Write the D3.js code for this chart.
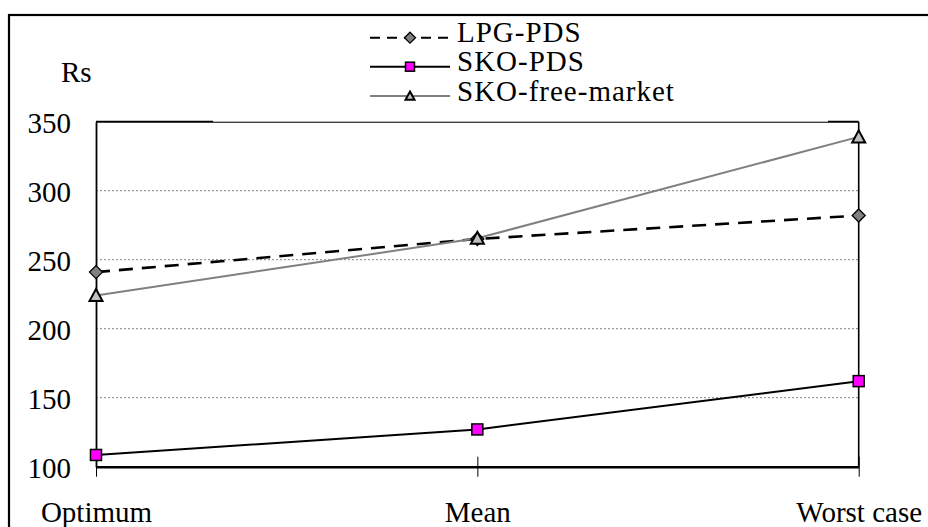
<!DOCTYPE html>
<html>
<head>
<meta charset="utf-8">
<script src="https://cdn.jsdelivr.net/npm/d3@7"></script>
<style>
  html, body { margin: 0; padding: 0; background: #fff; }
  svg { display: block; }
</style>
</head>
<body>
<svg id="chart" width="928" height="527"></svg>
<script>
// Cost per household scenario (Rs)
const categories = ["Optimum", "Mean", "Worst case"];
const lpgPds = [241, 265, 282];
const skoPds = [108.5, 127, 162];
const skoFreeMarket = [224, 265.5, 339];
const yTicks = [100, 150, 200, 250, 300, 350];
const seriesNames = ["LPG-PDS", "SKO-PDS", "SKO-free-market"];

// pick the first installed serif face (Times-like preferred)
function pickFont(cands) {
  const ctx = document.createElement("canvas").getContext("2d");
  const probe = "Optimum SKO-free-market 0123456789";
  for (const f of cands) {
    let differs = false;
    for (const base of ["monospace", "sans-serif"]) {
      ctx.font = `30px ${base}`;
      const w0 = ctx.measureText(probe).width;
      ctx.font = `30px "${f}", ${base}`;
      if (Math.abs(ctx.measureText(probe).width - w0) > 0.5) differs = true;
      else { differs = false; break; }
    }
    if (differs) return `"${f}"`;
  }
  return "serif";
}
const serif = pickFont(["Liberation Serif", "Times New Roman", "Tinos", "Nimbus Roman",
  "Nimbus Roman No9 L", "FreeSerif", "DejaVu Serif", "Noto Serif", "Noto Serif CJK SC"]);

const svg = d3.select("#chart").attr("font-family", serif);
const plotLeft = 96, plotRight = 858.7, plotTop = 121.7, plotBottom = 466.7;

const x = d3.scalePoint().domain(categories).range([plotLeft, plotRight]);
const y = d3.scaleLinear().domain([100, 350]).range([plotBottom, plotTop]);

// outer chart border
svg.append("rect")
  .attr("x", 9).attr("y", 15)
  .attr("width", 940).attr("height", 540)
  .attr("fill", "none").attr("stroke", "#000").attr("stroke-width", 2.2);

// dotted gridlines
svg.append("g")
  .selectAll("line")
  .data(yTicks.filter(d => d > 100 && d < 350))
  .join("line")
  .attr("x1", plotLeft).attr("x2", plotRight)
  .attr("y1", d => y(d)).attr("y2", d => y(d))
  .attr("stroke", "#808080").attr("stroke-width", 1)
  .attr("stroke-dasharray", "2,2");

// plot frame: top and right edges
svg.append("line")
  .attr("x1", plotLeft).attr("x2", plotRight).attr("y1", plotTop).attr("y2", plotTop)
  .attr("stroke", "#000").attr("stroke-width", 2);
svg.append("line")
  .attr("x1", plotRight).attr("x2", plotRight).attr("y1", plotTop).attr("y2", plotBottom)
  .attr("stroke", "#000").attr("stroke-width", 1.6);

// legend background box (overlaps the frame top slightly)
svg.append("rect")
  .attr("x", 213).attr("y", 17)
  .attr("width", 615).attr("height", plotTop - 17)
  .attr("fill", "#fff");

// y axis
const yAxis = d3.axisLeft(y).tickValues(yTicks).tickSize(0).tickPadding(25);
const gy = svg.append("g").attr("transform", `translate(${plotLeft},0)`).call(yAxis);
gy.attr("font-family", serif).attr("font-size", 29);
gy.select(".domain").attr("stroke", "#000").attr("stroke-width", 1.8);
gy.selectAll("text").attr("fill", "#000").attr("dy", "0.36em");

// x axis with crossing tick marks
const xAxis = d3.axisBottom(x).tickSizeInner(10).tickSizeOuter(0).tickPadding(25);
const gx = svg.append("g").attr("transform", `translate(0,${plotBottom})`).call(xAxis);
gx.attr("font-family", serif).attr("font-size", 29);
gx.select(".domain").attr("stroke", "#000").attr("stroke-width", 2.4);
gx.selectAll(".tick line").attr("y1", -10).attr("stroke", "#000").attr("stroke-width", 1);
gx.selectAll("text").attr("fill", "#000").attr("dy", "0.71em");

// axis unit
svg.append("text").attr("x", 61).attr("y", 82)
  .attr("font-size", 29).text("Rs");

const line = d3.line().x((d, i) => x(categories[i])).y(d => y(d));

// series lines
svg.append("path").datum(lpgPds).attr("d", line)
  .attr("fill", "none").attr("stroke", "#000").attr("stroke-width", 2.6)
  .attr("stroke-dasharray", "14,9");
svg.append("path").datum(skoPds).attr("d", line)
  .attr("fill", "none").attr("stroke", "#000").attr("stroke-width", 2);
svg.append("path").datum(skoFreeMarket).attr("d", line)
  .attr("fill", "none").attr("stroke", "#808080").attr("stroke-width", 2);

// marker shapes
function diamond(g, cx, cy, r) {
  g.append("path")
    .attr("d", `M${cx},${cy - r}L${cx + r},${cy}L${cx},${cy + r}L${cx - r},${cy}Z`)
    .attr("fill", "#808080").attr("stroke", "#000").attr("stroke-width", 1.3);
}
function square(g, cx, cy, r) {
  g.append("rect").attr("x", cx - r).attr("y", cy - r)
    .attr("width", 2 * r).attr("height", 2 * r)
    .attr("fill", "#ff00ff").attr("stroke", "#000").attr("stroke-width", 1.5);
}
function triangle(g, cx, cy, r) {
  g.append("path")
    .attr("d", `M${cx},${cy - r}L${cx + r},${cy + r * 0.85}L${cx - r},${cy + r * 0.85}Z`)
    .attr("fill", "#c0c0c0").attr("stroke", "#000").attr("stroke-width", 2);
}

const marks = svg.append("g");
lpgPds.forEach((v, i) => diamond(marks, x(categories[i]), y(v), 6.5));
skoPds.forEach((v, i) => square(marks, x(categories[i]), y(v), 5.5));
skoFreeMarket.forEach((v, i) => triangle(marks, x(categories[i]), y(v), 6.5));

// legend
const legend = svg.append("g");
const rowsY = [37.7, 66.7, 96];
const styles = [
  { stroke: "#000", width: 2, dash: "10,7", marker: diamond, r: 5.5 },
  { stroke: "#000", width: 2, dash: null, marker: square, r: 4.5 },
  { stroke: "#808080", width: 2, dash: null, marker: triangle, r: 4.5 }
];
seriesNames.forEach((name, i) => {
  const s = styles[i];
  const ly = rowsY[i];
  const ln = legend.append("line")
    .attr("x1", 370).attr("x2", 450).attr("y1", ly).attr("y2", ly)
    .attr("stroke", s.stroke).attr("stroke-width", s.width);
  if (s.dash) ln.attr("stroke-dasharray", s.dash);
  s.marker(legend, 410, ly, s.r);
  legend.append("text").attr("x", 457).attr("y", ly + 4.5)
    .attr("font-size", 29).attr("letter-spacing", 1).text(name);
});
</script>
</body>
</html>
